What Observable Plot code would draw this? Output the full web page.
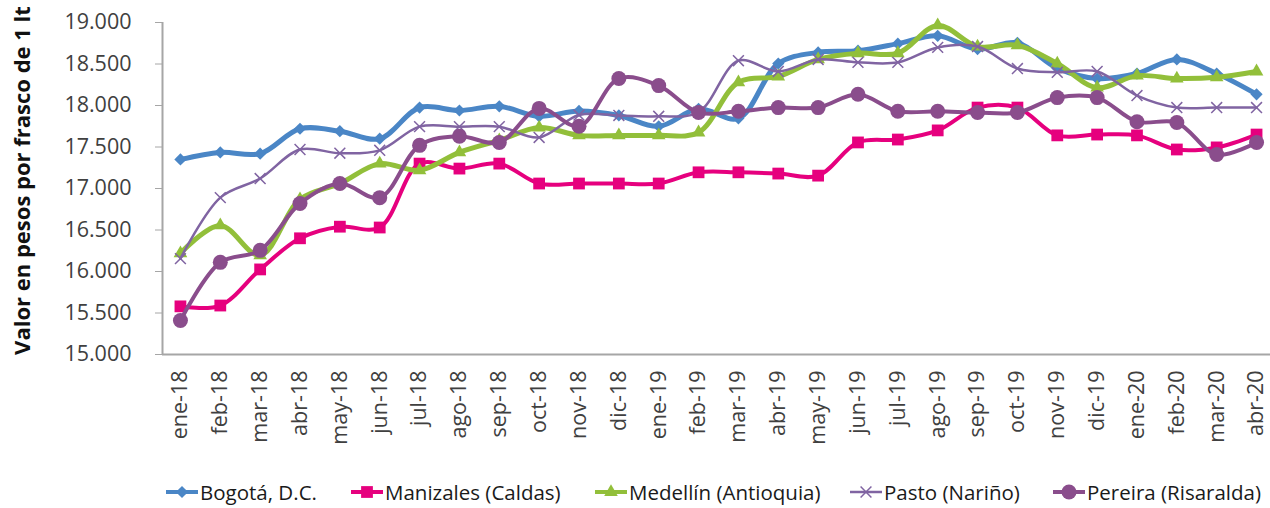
<!DOCTYPE html>
<html>
<head>
<meta charset="utf-8">
<script src="https://cdn.jsdelivr.net/npm/d3@7"></script>
<script src="https://cdn.jsdelivr.net/npm/@observablehq/plot@0.6"></script>
<style>
  html, body { margin: 0; padding: 0; background: #fff; overflow: hidden; }
  body { width: 1270px; height: 508px; font-family: "Open Sans", sans-serif; position: relative; }
  #chart { position: absolute; top: 0; left: 0; }
  #legend { position: absolute; top: 476px; left: 0; width: 1270px; height: 32px; font-size: 20.5px; color: #1a1a1a; }
  .item { position: absolute; top: 0; display: flex; align-items: center; height: 32px; white-space: nowrap; }
  .item svg { display: block; margin-right: 2px; }
</style>
</head>
<body>
<div id="chart"></div>
<div id="legend"></div>
<script>
const months = ["ene-18","feb-18","mar-18","abr-18","may-18","jun-18","jul-18","ago-18","sep-18","oct-18","nov-18","dic-18",
  "ene-19","feb-19","mar-19","abr-19","may-19","jun-19","jul-19","ago-19","sep-19","oct-19","nov-19","dic-19",
  "ene-20","feb-20","mar-20","abr-20"];
const cities = ["Bogotá, D.C.","Manizales (Caldas)","Medellín (Antioquia)","Pasto (Nariño)","Pereira (Risaralda)"];

const bogota    = [17350,17435,17420,17720,17690,17600,17975,17940,17990,17870,17935,17880,17750,17960,17845,18505,18640,18660,18745,18840,18680,18755,18450,18325,18385,18555,18385,18135];
const manizales = [15580,15590,16025,16400,16540,16530,17300,17240,17300,17060,17060,17060,17060,17195,17195,17180,17155,17555,17590,17700,17975,17975,17640,17650,17640,17470,17495,17650];
const medellin  = [16220,16555,16195,16870,17060,17300,17220,17435,17580,17735,17640,17640,17640,17675,18280,18350,18555,18630,18630,18965,18710,18725,18505,18215,18360,18325,18340,18410];
const pasto     = [16155,16890,17120,17470,17425,17460,17745,17745,17745,17615,17885,17880,17870,17920,18540,18410,18555,18520,18520,18700,18710,18445,18400,18410,18120,17975,17975,17975];
const pereira   = [15410,16110,16255,16820,17060,16890,17520,17630,17555,17965,17750,18325,18240,17915,17930,17975,17975,18135,17930,17930,17915,17915,18095,18095,17805,17795,17410,17555];

const seriesValues = [bogota, manizales, medellin, pasto, pereira];
const colors  = ["#4a86c6","#e6007e","#92bf3a","#8064a2","#8a4d8c"];
const symbols = ["diamond2","square2","triangle2","times","circle"];
const widths  = [5, 4, 5, 2.5, 4];
const radii   = [5.5, 7.5, 6.5, 5, 7.5];

const yTitle = "Valor en pesos por frasco de 1 lt";
const esFmt = d3.formatLocale({decimal: ",", thousands: ".", grouping: [3], currency: ["$", ""]}).format(",");

const tables = seriesValues.map((vals, s) => vals.map((v, i) => ({i, v, city: cities[s]})));

const marks = [
  Plot.ruleY([15000], {stroke: "#a6a6a6", strokeWidth: 2}),
  Plot.ruleX([-0.45], {stroke: "#a6a6a6", strokeWidth: 2}),
];
tables.forEach((t, s) => {
  marks.push(Plot.line(t, {x: "i", y: "v", stroke: colors[s], strokeWidth: widths[s], curve: "catmull-rom"}));
  if (symbols[s] === "times") {
    marks.push(Plot.dot(t, {x: "i", y: "v", symbol: "times", stroke: colors[s], strokeWidth: 1.5, r: radii[s]}));
  } else {
    marks.push(Plot.dot(t, {x: "i", y: "v", symbol: symbols[s], fill: colors[s], stroke: "none", r: radii[s]}));
  }
});
marks.push(
  Plot.axisY({ticks: d3.range(15000, 19001, 500), tickFormat: esFmt, tickSize: 7, tickPadding: 24, stroke: "#a6a6a6", fontSize: 21.5, color: "#404040", label: null}),
  Plot.axisX({ticks: d3.range(months.length), tickFormat: i => months[i], tickRotate: -90, tickSize: 0, tickPadding: 16, fontSize: 21.5, color: "#404040", label: null}),
  Plot.text([yTitle], {frameAnchor: "left", textAnchor: "middle", dx: -140, dy: -8, rotate: -90, fontSize: 22, fontWeight: "bold", fill: "#111"})
);

const chart = Plot.plot({
  width: 1270,
  height: 462,
  marginLeft: 162,
  marginRight: 0,
  marginTop: 22,
  marginBottom: 108,
  style: {fontFamily: "'Open Sans', sans-serif", color: "#404040", background: "#fff", overflow: "visible"},
  x: {type: "linear", domain: [-0.45, 27.35], axis: null},
  y: {domain: [15000, 19000], axis: null},
  marks
});
document.getElementById("chart").appendChild(chart);

// legend
const legendLeft = [166, 351, 595, 850, 1053];
const lg = d3.select("#legend");
const symMap = {diamond2: d3.symbolDiamond2, square2: d3.symbolSquare2, triangle2: d3.symbolTriangle2, times: d3.symbolTimes, circle: d3.symbolCircle};
cities.forEach((c, s) => {
  const item = lg.append("div").attr("class", "item").style("left", legendLeft[s] + "px");
  const sv = item.append("svg").attr("width", 32).attr("height", 20);
  sv.append("line").attr("x1", 0).attr("x2", 32).attr("y1", 10).attr("y2", 10)
    .attr("stroke", colors[s]).attr("stroke-width", Math.min(widths[s], 4));
  const path = sv.append("path").attr("transform", "translate(16,10)")
    .attr("d", d3.symbol(symMap[symbols[s]], Math.PI * radii[s] * radii[s])());
  if (symbols[s] === "times") path.attr("fill", "none").attr("stroke", colors[s]).attr("stroke-width", 1.5);
  else path.attr("fill", colors[s]);
  item.append("span").text(c);
});
</script>
</body>
</html>
